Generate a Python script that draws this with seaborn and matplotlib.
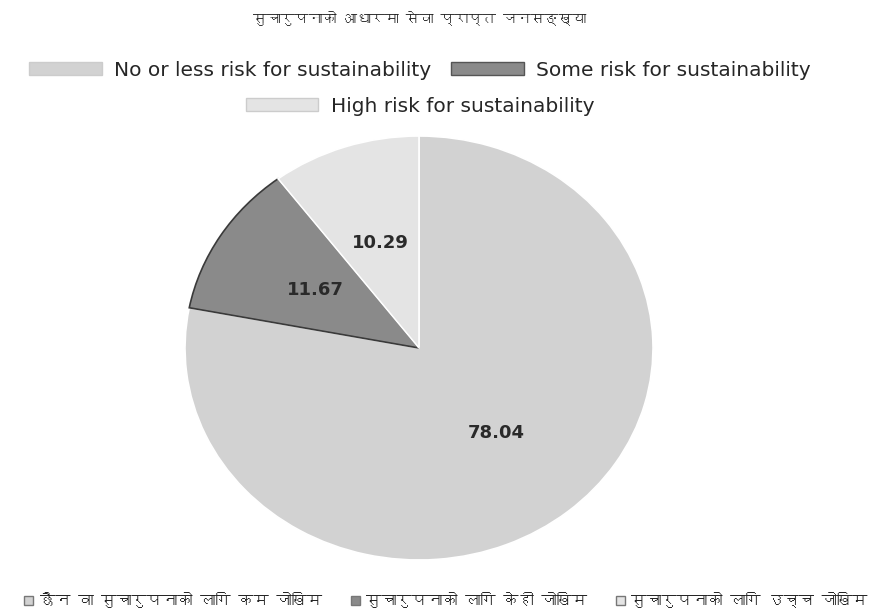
import matplotlib
matplotlib.use("Agg")
import matplotlib.pyplot as plt
from matplotlib import font_manager
from matplotlib.ft2font import FT2Font
from matplotlib.patches import Patch
import seaborn as sns

title = "सुचारुपनाको आधारमा सेवा प्राप्त जनसङ्ख्या"
labels_en = ["No or less risk for sustainability", "Some risk for sustainability",
             "High risk for sustainability"]
labels_np = ["छैन वा सुचारुपनाको लागि कम जोखिम", "सुचारुपनाको लागि केही जोखिम",
             "सुचारुपनाको लागि उच्च जोखिम"]
values = [78.04, 11.67, 10.29]
colors = ["#d2d2d2", "#8a8a8a", "#e4e4e4"]
edges = ["white", "#3a3a3a", "white"]

sns.set_theme(style="white")


def find_deva():
    # look for any installed font that has Devanagari glyphs
    for f in font_manager.fontManager.ttflist:
        try:
            if 0x0938 in FT2Font(f.fname).get_charmap():
                return f.name
        except Exception:
            pass
    return None


deva = find_deva()
deva_family = [deva, "DejaVu Sans"] if deva else ["DejaVu Sans"]
plt.rcParams["font.family"] = ["DejaVu Sans"]

fig = plt.figure(figsize=(8.91, 6.14), dpi=100)
ax = fig.add_axes([185 / 891, 54 / 614, 468 / 891, 424 / 614])

wedges, texts, autotexts = ax.pie(values, colors=colors, startangle=90, counterclock=False,
                                  autopct="%.2f", pctdistance=0.52,
                                  wedgeprops=dict(linewidth=1.2),
                                  textprops=dict(fontsize=13, fontweight="bold", color="#2a2a2a"))
for w, ec in zip(wedges, edges):
    w.set_edgecolor(ec)
ax.set_aspect("auto")
ax.set_xlim(-1, 1)
ax.set_ylim(-1, 1)

fig.text(420 / 891, 1 - 18 / 614, title, ha="center", va="center", fontsize=10,
         fontweight="bold", family=deva_family)

h = [Patch(facecolor=c, edgecolor=("#555555" if i == 1 else "#cccccc")) for i, c in enumerate(colors)]
fig.legend(h[:2], labels_en[:2], loc="center", bbox_to_anchor=(420 / 891, 1 - 70 / 614),
           ncol=2, frameon=False, fontsize=14.5, handlelength=3.6, handleheight=0.6,
           columnspacing=1.0, handletextpad=0.6)
fig.legend(h[2:], labels_en[2:], loc="center", bbox_to_anchor=(420 / 891, 1 - 106 / 614),
           frameon=False, fontsize=14.5, handlelength=3.6, handleheight=0.6, handletextpad=0.6)

hs = [Patch(facecolor=c, edgecolor="#777777") for c in colors]
fig.legend(hs, labels_np, loc="center", bbox_to_anchor=(446 / 891, 1 - 600 / 614), ncol=3,
           frameon=False, handlelength=0.6, handleheight=0.6, handletextpad=0.4,
           columnspacing=1.9, prop=dict(family=deva_family, size=11, weight="bold"))

fig.savefig("out.png", dpi=100)
